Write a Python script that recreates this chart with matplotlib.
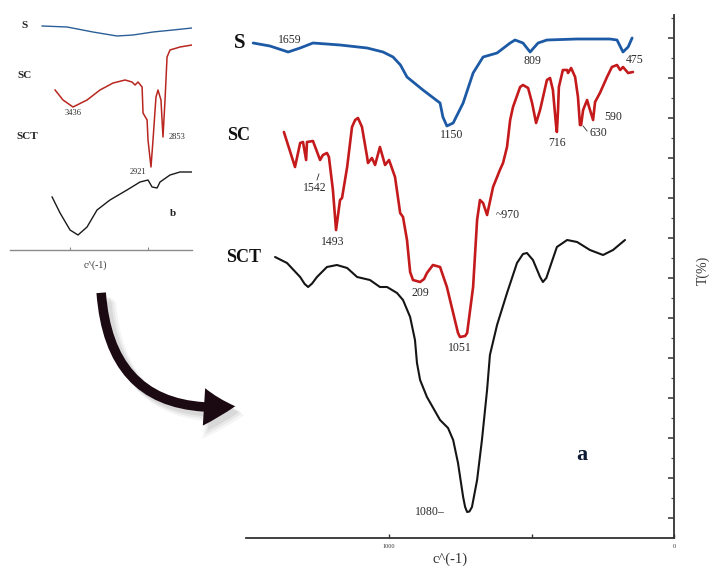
import matplotlib
matplotlib.use("Agg")
import matplotlib.pyplot as plt
from matplotlib.patches import FancyArrowPatch
from matplotlib.ticker import FixedLocator, NullFormatter, FixedFormatter

plt.rcParams['font.family'] = ['Liberation Serif', 'DejaVu Serif']

# ---------------- main panel (a) data ----------------
s_x = [1477, 1418, 1354, 1312, 1267, 1172, 1077, 1021, 986, 960, 937, 881, 821, 811, 797,
       775, 740, 705, 670, 621, 575, 558, 530, 505, 477, 446, 340, 225, 200, 179, 161, 147]
s_y = [99.0, 98.4, 97.2, 98.0, 99.0, 98.6, 98.0, 97.2, 96.2, 94.6, 92.2, 89.6, 87.0, 84.2, 82.4,
       83.0, 87.0, 93.0, 96.2, 97.0, 99.0, 99.6, 99.0, 97.2, 99.0, 99.6, 99.8, 99.8, 99.6, 97.2, 98.2, 100.0]

sc_x = [1369, 1330, 1312, 1302, 1291, 1288, 1267, 1242, 1232, 1218, 1211, 1197, 1186, 1172,
        1165, 1147, 1130, 1119, 1109, 1095, 1077, 1074, 1060, 1049, 1032, 1014, 1000, 979,
        961, 951, 937, 926, 916, 891, 877, 867, 846, 821, 797, 775, 758, 751, 733, 726, 705,
        691, 681, 670, 656, 635, 611, 600, 586, 575, 565, 540, 530, 512, 498, 484, 470, 446,
        435, 425, 414, 411, 407, 404, 390, 375, 372, 361, 347, 337, 330, 326, 319, 305, 298,
        284, 277, 260, 235, 218, 200, 189, 179, 161, 144]
sc_y = [81.2, 74.2, 79.0, 79.2, 75.6, 79.2, 79.4, 75.6, 76.6, 77.0, 76.2, 69.6, 61.6, 67.6,
        68.0, 74.2, 82.2, 83.6, 84.0, 82.2, 76.2, 75.0, 76.0, 74.6, 78.2, 74.6, 75.6, 72.2,
        65.0, 64.2, 59.6, 53.2, 51.6, 51.2, 51.8, 53.0, 54.6, 54.2, 50.2, 45.0, 41.0, 40.2,
        40.4, 41.0, 50.2, 63.6, 67.6, 67.0, 64.6, 70.2, 73.6, 75.0, 78.2, 83.6, 86.2, 90.2,
        90.6, 90.0, 87.0, 83.0, 85.6, 91.6, 92.0, 89.6, 82.6, 81.2, 85.6, 90.2, 93.6, 93.6,
        93.0, 94.0, 92.2, 88.2, 82.6, 82.6, 85.6, 87.6, 86.2, 83.6, 87.2, 89.0, 92.2, 94.2,
        94.6, 93.6, 94.2, 93.0, 93.2]

sct_x = [1400, 1358, 1312, 1296, 1284, 1270, 1253, 1218, 1183, 1147, 1112, 1067, 1032, 1007,
         972, 951, 926, 909, 902, 891, 867, 821, 793, 775, 758, 740, 733, 726, 718, 709, 691,
         674, 656, 646, 621, 586, 551, 530, 516, 495, 470, 460, 448, 435, 411, 375, 340, 295,
         249, 214, 172]
sct_y = [56.2, 55.0, 52.2, 50.8, 50.2, 50.9, 52.2, 54.2, 54.6, 54.0, 52.2, 51.6, 50.2, 50.2,
         49.0, 47.6, 44.2, 39.6, 35.0, 31.6, 28.2, 23.6, 22.0, 19.6, 15.0, 8.2, 6.2, 5.2, 5.3,
         6.2, 11.6, 19.6, 29.6, 36.6, 42.6, 49.0, 55.0, 56.8, 57.0, 55.6, 52.2, 51.2, 52.0,
         54.2, 58.2, 59.6, 59.2, 57.6, 56.6, 57.6, 59.6]

peak_labels = ["1659", "1150", "809", "475", "1542", "1493", "209", "1051", "~970",
               "716", "630", "590", "1080\u2013"]
peak_x = [1347, 779, 498, 137, 1260, 1197, 891, 751, 582, 411, 267, 214, 856]
peak_y = [99.6, 80.6, 95.4, 95.6, 70.0, 59.2, 49.0, 38.0, 64.6, 79.0, 81.0, 84.2, 5.2]

x_ticks = [1000, 500, 0]
x_tick_labels = ["1000", "", "0"]

# ---------------- inset panel (b) data ----------------
bs_x = [3679, 3519, 3353, 3199, 3096, 2968, 2840, 2718]
bs_y = [89.6, 89.2, 87.2, 85.6, 86.0, 87.2, 88.0, 88.8]

bsc_x = [3596, 3545, 3481, 3391, 3308, 3224, 3147, 3103, 3083, 3064, 3038, 3032, 3006, 3000,
         2981, 2968, 2949, 2936, 2917, 2904, 2891, 2878, 2859, 2795, 2718]
bsc_y = [64.0, 60.0, 57.2, 60.0, 64.0, 66.8, 68.0, 67.2, 66.0, 67.2, 65.2, 54.8, 52.0, 44.0,
         33.2, 44.0, 61.2, 64.0, 60.0, 45.2, 60.0, 77.2, 80.0, 81.2, 82.0]

bsct_x = [3615, 3564, 3500, 3449, 3391, 3327, 3244, 3135, 3051, 3000, 2974, 2942, 2923, 2859,
          2795, 2718]
bsct_y = [21.2, 14.8, 8.0, 6.0, 9.2, 16.0, 20.0, 24.0, 27.2, 28.0, 25.2, 24.8, 27.2, 30.0,
          31.2, 31.2]

b_labels = ["3436", "2921", "2853"]
b_lab_x = [3481, 3064, 2814]
b_lab_y = [54.8, 31.2, 45.2]
b_ticks = [3500, 3000]

W, H = 711, 566
fig = plt.figure(figsize=(W / 100, H / 100), dpi=100)
fig.patch.set_facecolor('white')

def fx(px):
    return px / W

def fy(py):
    return 1 - py / H

BLUE = '#1d5aa6'
RED = '#c41a1c'
BLACK = '#151515'
TXT = '#2a2a2a'

# ---------------- main axes ----------------
ax = fig.add_axes([fx(246), fy(538), (674 - 246) / W, (538 - 15) / H])
ax.plot(s_x, s_y, color=BLUE, lw=2.0, solid_joinstyle='round', solid_capstyle='round')
ax.plot(sc_x, sc_y, color=RED, lw=1.9, solid_joinstyle='round', solid_capstyle='round')
ax.plot(sct_x, sct_y, color=BLACK, lw=1.5, solid_joinstyle='round', solid_capstyle='round')
ax.set_xlim(1502, 0)
ax.set_ylim(0, 104.6)
for side in ['top', 'left']:
    ax.spines[side].set_visible(False)
for side in ['right', 'bottom']:
    ax.spines[side].set_color('#333333')
    ax.spines[side].set_linewidth(1.3)
ax.yaxis.tick_right()
ax.yaxis.set_major_locator(FixedLocator([4 + 8 * k for k in range(13)]))
ax.yaxis.set_minor_locator(FixedLocator([8 * k for k in range(1, 14)]))
ax.yaxis.set_major_formatter(NullFormatter())
ax.tick_params(axis='y', which='major', direction='in', length=4, width=1.1, color='#333333')
ax.tick_params(axis='y', which='minor', direction='in', length=2.5, width=0.9, color='#555555')
ax.xaxis.set_major_locator(FixedLocator(x_ticks))
ax.xaxis.set_major_formatter(FixedFormatter(x_tick_labels))
ax.tick_params(axis='x', direction='in', length=3, width=1, color='#333333',
               labelsize=4.5, pad=4, labelcolor='#333333')

for lab, x, y in zip(peak_labels, peak_x, peak_y):
    ax.text(x, y, lab, ha='center', va='center', fontsize=8.5, color=TXT)
# small leader lines
ax.plot([1253, 1246], [71.6, 72.8], color=TXT, lw=0.6)
ax.plot([319, 305], [82.4, 81.4], color=TXT, lw=0.6)

ax.text(323, 16.6, "a", ha='center', va='center', fontsize=16, fontweight='bold', color='#0d1a33')

fig.text(fx(240), fy(43), "S", ha='center', va='center', fontsize=15, fontweight='bold', color='#111')
fig.text(fx(239), fy(135), "SC", ha='center', va='center', fontsize=13, fontweight='bold', color='#111')
fig.text(fx(244), fy(257), "SCT", ha='center', va='center', fontsize=13, fontweight='bold', color='#111')
fig.text(fx(450), fy(559), "c^(-1)", ha='center', va='center', fontsize=10.5, color='#333')
fig.text(fx(703), fy(270), "T(%)", ha='center', va='center', fontsize=10, rotation=90, color='#333')

# ---------------- inset axes ----------------
bx = fig.add_axes([fx(10), fy(250), (192 - 10) / W, 250 / H])
bx.plot(bs_x, bs_y, color='#2c5f97', lw=1.0)
bx.plot(bsc_x, bsc_y, color='#b8261f', lw=1.1)
bx.plot(bsct_x, bsct_y, color='#1a1a1a', lw=1.0)
bx.set_xlim(3885, 2718)
bx.set_ylim(0, 100)
bx.patch.set_alpha(0)
for side in ['top', 'left', 'right']:
    bx.spines[side].set_visible(False)
bx.spines['bottom'].set_color('#8a8a8a')
bx.spines['bottom'].set_linewidth(1.0)
bx.xaxis.set_major_locator(FixedLocator(b_ticks))
bx.xaxis.set_major_formatter(NullFormatter())
bx.set_yticks([])
bx.tick_params(axis='x', direction='in', length=2, width=0.8, color='#8a8a8a')
for lab, x, y in zip(b_labels, b_lab_x, b_lab_y):
    bx.text(x, y, lab, ha='center', va='center', fontsize=6, color=TXT)
bx.text(2840, 14.8, "b", ha='center', va='center', fontsize=8, fontweight='bold', color='#222')

fig.text(fx(25), fy(25), "S", ha='center', va='center', fontsize=8, fontweight='bold', color='#222')
fig.text(fx(25), fy(75), "SC", ha='center', va='center', fontsize=8, fontweight='bold', color='#222')
fig.text(fx(27), fy(137), "SCT", ha='center', va='center', fontsize=8, fontweight='bold', color='#222')
fig.text(fx(95), fy(265), "c^(-1)", ha='center', va='center', fontsize=7, color='#333')

# ---------------- curved arrow with soft shadow ----------------
A = (101, 290)
B = (238, 406)
style = "simple,head_length=1.25,head_width=1.5,tail_width=0.38"
for off, alpha, extra in [(9, 0.06, 1.25), (7, 0.08, 1.12), (5, 0.10, 1.0)]:
    sh = FancyArrowPatch((fx(A[0] + off), fy(A[1] + off)), (fx(B[0] + off), fy(B[1] + off)),
                         transform=fig.transFigure, connectionstyle="arc3,rad=0.52",
                         arrowstyle=style, mutation_scale=18 * extra, color='#555555',
                         alpha=alpha, lw=0)
    fig.patches.append(sh)
arr = FancyArrowPatch((fx(A[0]), fy(A[1])), (fx(B[0]), fy(B[1])),
                      transform=fig.transFigure, connectionstyle="arc3,rad=0.52",
                      arrowstyle=style, mutation_scale=18, color='#1c0a12', lw=0)
fig.patches.append(arr)

fig.savefig("out.png", dpi=100, facecolor='white')
